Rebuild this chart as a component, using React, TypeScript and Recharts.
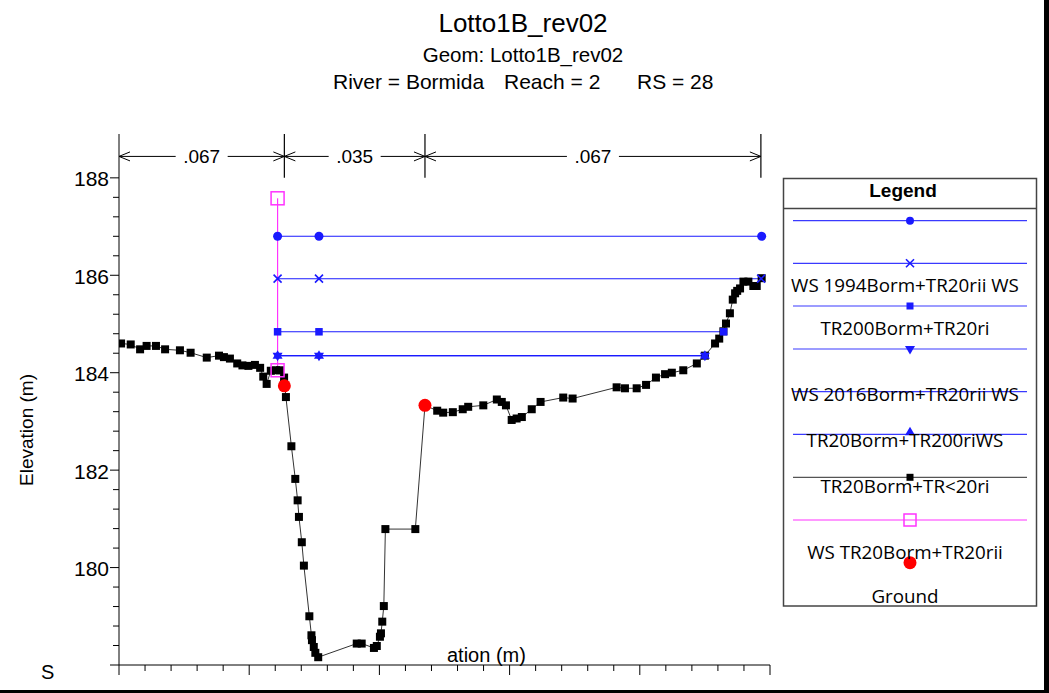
import React from 'react'
import { ComposedChart, Line, XAxis, YAxis, ReferenceLine } from 'recharts'

// ground profile (station m, elevation m)
const groundSta = [
  0.8, 4.5, 8.1, 10.6, 14.2, 17.7, 23.4, 27.5, 33.7, 38.4, 40.3, 42.6, 45.4, 47.4,
  49.7, 52.2, 54.2, 55.4, 56.7, 58.3, 60.3, 61.8, 63.4, 64.1, 66.2, 67.7, 68.6, 69.1,
  70.2, 71.0, 73.1, 73.9, 74.1, 74.8, 75.4, 76.5, 91.3, 93.2, 97.9, 99.0, 100.2, 100.6,
  101.1, 101.7, 102.3, 113.8, 117.5, 122.2, 124.5, 128.2, 132.0, 134.1, 139.9, 145.1,
  147.0, 148.6, 150.8, 152.7, 154.7, 158.5, 161.9, 170.6, 174.2, 191.1, 194.3, 198.8,
  202.4, 206.2, 209.7, 212.3, 216.7, 221.9, 225.0, 228.9, 230.5, 232.1, 233.1, 234.6,
  235.7, 236.6, 237.4, 238.5, 239.8, 241.7, 243.6, 244.9, 246.8,
]
const groundElev = [
  184.6, 184.58, 184.48, 184.55, 184.55, 184.48, 184.46, 184.41, 184.31, 184.35, 184.32,
  184.29, 184.19, 184.15, 184.14, 184.16, 184.1, 183.92, 183.77, 184.04, 184.05, 184.05,
  183.9, 183.5, 182.49, 181.82, 181.38, 181.04, 180.52, 180.04, 179.0, 178.61, 178.51,
  178.37, 178.25, 178.16, 178.44, 178.44, 178.35, 178.39, 178.58, 178.65, 178.89, 179.21,
  180.79, 180.79, 183.33, 183.22, 183.18, 183.19, 183.25, 183.3, 183.33, 183.45, 183.4,
  183.33, 183.03, 183.06, 183.09, 183.25, 183.4, 183.49, 183.47, 183.7, 183.68, 183.68,
  183.75, 183.9, 183.97, 184.0, 184.05, 184.19, 184.35, 184.6, 184.7, 184.85, 185.01,
  185.22, 185.5, 185.63, 185.68, 185.73, 185.87, 185.87, 185.78, 185.78, 185.94,
]

// bank stations (red)
const bankSta = [63.5, 117.5]
const bankElev = [183.73, 183.33]

// water surface profiles
const ws1Sta = [60.9, 76.8, 246.8]
const ws1Elev = [186.8, 186.8, 186.8]
const ws2Sta = [60.9, 76.8, 246.6]
const ws2Elev = [185.93, 185.93, 185.93]
const ws3Sta = [60.9, 76.8, 232.2]
const ws3Elev = [184.84, 184.84, 184.84]
const ws4Sta = [60.9, 76.8, 225.0]
const ws4Elev = [184.35, 184.35, 184.35]
const ws5Sta = [60.9, 76.8, 225.0]
const ws5Elev = [184.35, 184.35, 184.35]
const wsTrSta = [60.9, 60.9]
const wsTrElev = [184.05, 187.58]

// manning n
const nStations = [0, 63.5, 117.5, 246.5]
const nValues = ['.067', '.035', '.067']

const xTicks = [0, 10, 20, 30, 40, 50, 60, 70, 80, 90, 100, 110, 120, 130, 140, 150, 160, 170, 180, 190, 200, 210, 220, 230, 240, 250]
const yTicks = [
  178, 178.4, 178.8, 179.2, 179.6, 180, 180.4, 180.8, 181.2, 181.6, 182, 182.4, 182.8,
  183.2, 183.6, 184, 184.4, 184.8, 185.2, 185.6, 186, 186.4, 186.8, 187.2, 187.6, 188,
]
const yLabels = [180, 182, 184, 186, 188]

const legendLabels = [
  'WS 1994Borm+TR20rii WS',
  'TR200Borm+TR20ri',
  'WS 2016Borm+TR20rii WS',
  'TR20Borm+TR200riWS',
  'TR20Borm+TR<20ri',
  'WS TR20Borm+TR20rii',
  'Ground',
]

const toData = (xs: number[], ys: number[]) => xs.map((x, i) => ({ x, y: ys[i] }))

const ARIAL = '"Liberation Sans", Arial, sans-serif'
const BLUE = '#1a1aff'

const square = (size: number, fill: string, stroke = 'none') => (p: any) => (
  <rect key={p.index} x={p.cx - size / 2} y={p.cy - size / 2} width={size} height={size} fill={fill} stroke={stroke} strokeWidth={1.5} />
)
const circle = (r: number, fill: string) => (p: any) => <circle key={p.index} cx={p.cx} cy={p.cy} r={r} fill={fill} />
const cross = (p: any) => (
  <path key={p.index} d={`M${p.cx - 4},${p.cy - 4}L${p.cx + 4},${p.cy + 4}M${p.cx - 4},${p.cy + 4}L${p.cx + 4},${p.cy - 4}`} stroke={BLUE} strokeWidth={1.6} />
)
const triDown = (p: any) => (
  <path key={p.index} d={`M${p.cx - 5},${p.cy - 3}L${p.cx + 5},${p.cy - 3}L${p.cx},${p.cy + 5.5}Z`} fill={BLUE} />
)
const triUp = (p: any) => (
  <path key={p.index} d={`M${p.cx - 5},${p.cy + 3}L${p.cx + 5},${p.cy + 3}L${p.cx},${p.cy - 5.5}Z`} fill={BLUE} />
)

const XTick = (p: any) => {
  const v = p.payload.value
  const len = v % 50 === 0 ? 10 : 6
  return <line x1={p.x} x2={p.x} y1={p.y} y2={p.y + len} stroke="#000" />
}

const YTick = (p: any) => {
  const v = p.payload.value
  const major = yLabels.includes(v) || v === 178
  return (
    <g>
      <line x1={p.x} x2={p.x - (major ? 9 : 6)} y1={p.y} y2={p.y} stroke="#000" />
      {yLabels.includes(v) && (
        <text x={p.x - 10} y={p.y} dy="0.4em" textAnchor="end" fontSize={21} fontFamily={ARIAL} fill="#000">
          {v}
        </text>
      )}
    </g>
  )
}

const nArrow = (label: string) => (p: any) => {
  const { x1, y1, x2 } = p
  const mid = (x1 + x2) / 2
  const gap = 26
  const a = 11
  const h = 4.5
  return (
    <g>
      <g stroke="#000" strokeWidth={1} fill="none">
        <line x1={x1} y1={y1} x2={mid - gap} y2={y1} />
        <line x1={mid + gap} y1={y1} x2={x2} y2={y1} />
        <polyline points={`${x1 + a},${y1 - h} ${x1},${y1} ${x1 + a},${y1 + h}`} />
        <polyline points={`${x2 - a},${y1 - h} ${x2},${y1} ${x2 - a},${y1 + h}`} />
      </g>
      <text x={mid} y={y1} dy="0.36em" textAnchor="middle" fontSize={19} fontFamily={ARIAL} fill="#000">
        {label}
      </text>
    </g>
  )
}

function LegendBox() {
  const lx1 = 793
  const lx2 = 1027
  const mx = 910
  const lineY = [220.7, 263.3, 306, 349, 391.7, 434.3, 477.3, 520]
  const textY = [291.7, 335, 400.7, 447.3, 492.7, 559, 602.7]
  return (
    <g>
      <rect x={783.5} y={178.5} width={253} height={427.5} fill="#fff" stroke="#444" strokeWidth={1.5} />
      <line x1={783.5} x2={1036.5} y1={208.5} y2={208.5} stroke="#444" strokeWidth={1.5} />
      <text x={903} y={197} textAnchor="middle" fontSize={19} fontWeight="bold" fontFamily={ARIAL}>Legend</text>
      {lineY.map((y, i) => (
        <line key={i} x1={lx1} x2={lx2} y1={y} y2={y} stroke={i === 6 ? '#555' : i === 7 ? '#ff33ff' : '#3a3aff'} strokeWidth={1.2} />
      ))}
      {circle(4, BLUE)({ cx: mx, cy: lineY[0], index: 'l0' })}
      {cross({ cx: mx, cy: lineY[1], index: 'l1' })}
      {square(7, BLUE)({ cx: mx, cy: lineY[2], index: 'l2' })}
      {triDown({ cx: mx, cy: lineY[3], index: 'l3' })}
      {triUp({ cx: mx, cy: lineY[5] - 2, index: 'l5' })}
      {square(7, '#000')({ cx: mx, cy: lineY[6], index: 'l6' })}
      {square(12, 'none', '#ff33ff')({ cx: mx, cy: lineY[7], index: 'l7' })}
      {circle(6.5, '#ff0000')({ cx: mx, cy: 562.7, index: 'l8' })}
      {legendLabels.map((t, i) => (
        <text key={t} x={905} y={textY[i]} textAnchor="middle" fontSize={18.8} fontFamily='"Open Sans", sans-serif' fill="#000">
          {t}
        </text>
      ))}
    </g>
  )
}

export default function App() {
  return (
    <div style={{ position: 'absolute', left: 0, top: 0, width: 1049, height: 693, background: '#fff', overflow: 'hidden' }}>
      <ComposedChart width={1049} height={693} margin={{ top: 134, right: 279, left: 0, bottom: 0 }}>
        <XAxis
          type="number"
          dataKey="x"
          domain={[0, 250]}
          ticks={xTicks}
          interval={0}
          height={28}
          tickSize={0}
          tickMargin={0}
          tick={XTick}
          tickLine={false}
          axisLine={{ stroke: '#000' }}
          allowDataOverflow
        />
        <YAxis
          type="number"
          domain={[178, 188.9]}
          ticks={yTicks}
          interval={0}
          width={119}
          tickSize={0}
          tickMargin={0}
          tick={YTick}
          tickLine={false}
          axisLine={{ stroke: '#000' }}
          allowDataOverflow
        />
        {nStations.slice(1).map((s) => (
          <ReferenceLine key={'b' + s} segment={[{ x: s, y: 188 }, { x: s, y: 188.9 }]} stroke="#000" strokeWidth={1.2} />
        ))}
        {nValues.map((n, i) => (
          <ReferenceLine
            key={'n' + i}
            segment={[{ x: nStations[i], y: 188.44 }, { x: nStations[i + 1], y: 188.44 }]}
            shape={nArrow(n)}
          />
        ))}
        <Line data={toData(groundSta, groundElev)} dataKey="y" stroke="#333" strokeWidth={1} dot={square(8, '#000')} isAnimationActive={false} />
        <Line data={toData(wsTrSta, wsTrElev)} dataKey="y" stroke="#ff33ff" strokeWidth={1.2} dot={square(13, 'none', '#ff33ff')} isAnimationActive={false} />
        <Line data={toData(ws1Sta, ws1Elev)} dataKey="y" stroke={BLUE} strokeWidth={1.1} dot={circle(4.5, BLUE)} isAnimationActive={false} />
        <Line data={toData(ws2Sta, ws2Elev)} dataKey="y" stroke={BLUE} strokeWidth={1.1} dot={cross} isAnimationActive={false} />
        <Line data={toData(ws3Sta, ws3Elev)} dataKey="y" stroke={BLUE} strokeWidth={1.1} dot={square(7.5, BLUE)} isAnimationActive={false} />
        <Line data={toData(ws4Sta, ws4Elev)} dataKey="y" stroke={BLUE} strokeWidth={1.1} dot={triDown} isAnimationActive={false} />
        <Line data={toData(ws5Sta, ws5Elev)} dataKey="y" stroke={BLUE} strokeWidth={1.1} dot={triUp} isAnimationActive={false} />
        <Line data={toData(bankSta, bankElev)} dataKey="y" stroke="none" dot={circle(6.5, '#ff0000')} isAnimationActive={false} />
      </ComposedChart>
      <svg width={1049} height={693} style={{ position: 'absolute', left: 0, top: 0, pointerEvents: 'none' }}>
        <g fontFamily={ARIAL} fill="#000" textAnchor="middle">
          <text x={523} y={31.5} fontSize={26}>Lotto1B_rev02</text>
          <text x={523} y={61.5} fontSize={20.5}>Geom: Lotto1B_rev02</text>
        </g>
        <g fontFamily={ARIAL} fill="#000" fontSize={21}>
          <text x={333} y={89.3}>River = Bormida</text>
          <text x={504} y={89.3}>Reach = 2</text>
          <text x={637} y={89.3}>RS = 28</text>
          <text x={447} y={662} fontSize={20}>ation (m)</text>
          <text x={41} y={679} fontSize={20}>S</text>
          <text transform="translate(33,430) rotate(-90)" textAnchor="middle" fontSize={19}>Elevation (m)</text>
        </g>
        <LegendBox />
        <rect x={1044} y={0} width={5} height={693} fill="#000" />
        <rect x={0} y={690} width={1049} height={3} fill="#000" />
      </svg>
    </div>
  )
}
